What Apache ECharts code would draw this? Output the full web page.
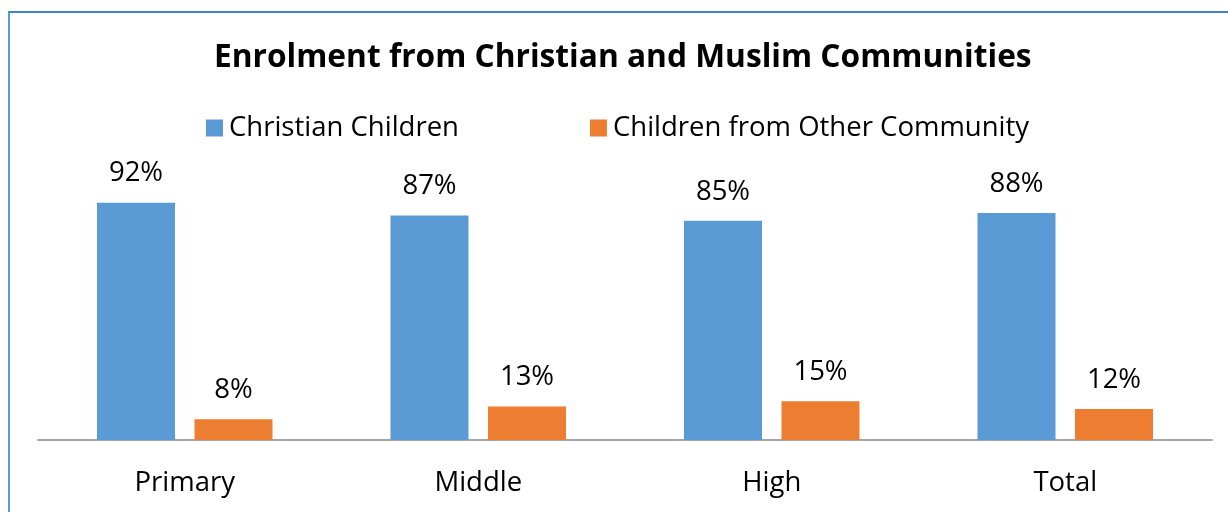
<!DOCTYPE html>
<html><head><meta charset="utf-8">
<script src="https://cdn.jsdelivr.net/npm/echarts@6/dist/echarts.min.js"></script>
<style>
html,body{margin:0;padding:0;background:#fff;overflow:hidden;}
#frame{position:absolute;left:8px;top:11px;width:1240px;height:520px;border-left:2px solid #5b9bd5;border-top:2px solid #3f84c8;box-sizing:border-box;}
#chart{position:absolute;left:0;top:0;width:1228px;height:512px;}
</style></head>
<body>
<div id="frame"></div>
<div id="chart"></div>
<script>
const categories = ['Primary', 'Middle', 'High', 'Total'];
const christian = [92, 87, 85, 88];
const other = [8, 13, 15, 12];
const seriesNames = ['Christian Children', 'Children from Other Community'];
const titleText = 'Enrolment from Christian and Muslim Communities';

const FONT = 'Open Sans';
const FS = 27.5;
const chart = echarts.init(document.getElementById('chart'), null, {renderer: 'canvas'});
const labelCfg = {
  show: true, position: 'top', distance: 15,
  formatter: p => p.value + '%',
  color: '#000', fontFamily: FONT, fontSize: FS
};
chart.setOption({
  backgroundColor: 'transparent',
  animation: false,
  title: {
    text: titleText, left: 209, top: 37,
    textStyle: {fontFamily: FONT, fontWeight: 'bold', fontSize: 31.7, color: '#000'}
  },
  legend: {
    data: seriesNames, top: 109, left: 201,
    itemWidth: 17, itemHeight: 17, itemGap: 131, icon: 'rect',
    textStyle: {fontFamily: FONT, fontSize: FS, color: '#000', padding: [0, 0, 0, 1]}
  },
  grid: {left: 38, right: 16, top: 182, bottom: 72, containLabel: false},
  xAxis: {
    type: 'category', data: categories,
    axisLine: {lineStyle: {color: '#a6a6a6', width: 2}},
    axisTick: {show: false},
    axisLabel: {fontFamily: FONT, fontSize: FS, color: '#000', margin: 29}
  },
  yAxis: {type: 'value', min: 0, max: 100, show: false, splitLine: {show: false}},
  series: [
    {name: seriesNames[0], type: 'bar', data: christian, barWidth: 78, barGap: '25%',
     itemStyle: {color: '#5b9bd5'}, label: labelCfg},
    {name: seriesNames[1], type: 'bar', data: other, barWidth: 78, barGap: '25%',
     itemStyle: {color: '#ed7d31'}, label: labelCfg}
  ]
});
</script>
</body></html>
